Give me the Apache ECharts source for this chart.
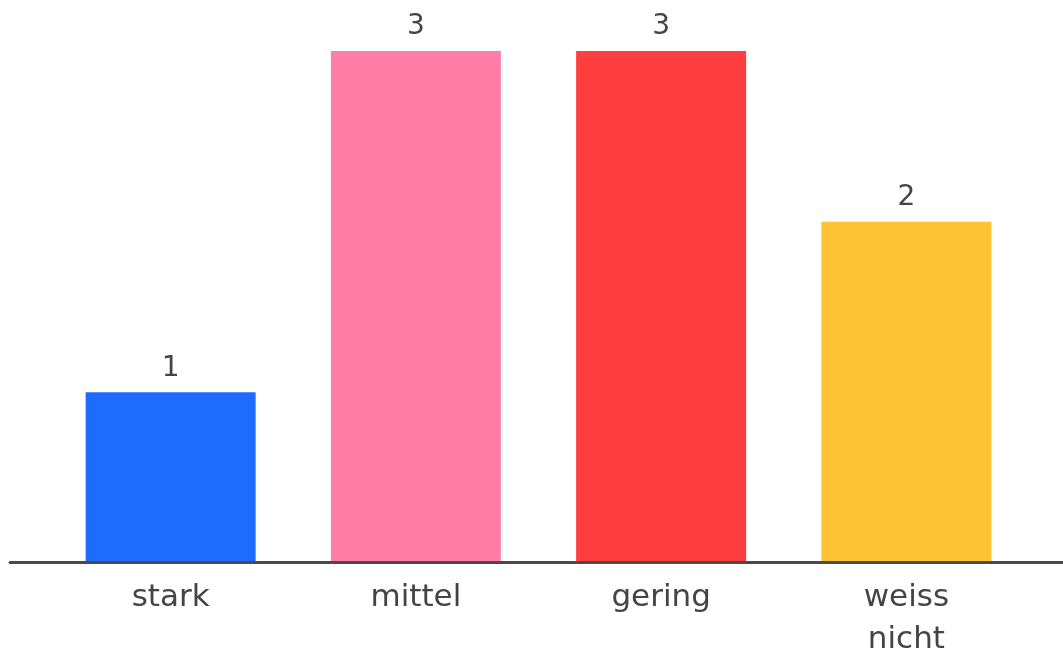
<!DOCTYPE html>
<html>
<head>
<meta charset="utf-8">
<script src="https://cdn.jsdelivr.net/npm/echarts@6/dist/echarts.min.js"></script>
<style>
  html, body { margin: 0; padding: 0; background: #ffffff; }
  #chart { width: 1063px; height: 654px; }
</style>
</head>
<body>
<div id="chart"></div>
<script>
// Answer categories and counts
const categories = ['stark', 'mittel', 'gering', 'weiss\nnicht'];
const counts = [1, 3, 3, 2];
const barColors = ['#1f6bff', '#ff7ea8', '#ff3f3f', '#fdc235'];

const chart = echarts.init(document.getElementById('chart'));

const labelFont = 'DejaVu Sans, sans-serif';

chart.setOption({
  animation: false,
  backgroundColor: '#ffffff',
  grid: [
    // plotting area for the bars
    { left: 48, right: 34, top: 51, bottom: 91, outerBoundsMode: 'none', containLabel: false },
    // full-width baseline
    { left: 10, right: 0, top: 51, bottom: 92, outerBoundsMode: 'none', containLabel: false }
  ],
  xAxis: [
    {
      type: 'category',
      gridIndex: 0,
      data: categories,
      axisLine: { show: false },
      axisTick: { show: false },
      axisLabel: {
        color: '#444444',
        fontFamily: labelFont,
        fontSize: 31,
        lineHeight: 42,
        margin: 14
      }
    },
    {
      type: 'value',
      gridIndex: 1,
      min: 0,
      max: 1,
      axisLine: { show: true, lineStyle: { color: '#4a4a4a', width: 3 } },
      axisTick: { show: false },
      axisLabel: { show: false },
      splitLine: { show: false },
      z: 10
    }
  ],
  yAxis: [
    {
      type: 'value',
      gridIndex: 0,
      min: 0,
      max: 3,
      show: false,
      splitLine: { show: false }
    },
    {
      type: 'value',
      gridIndex: 1,
      min: 0,
      max: 1,
      show: false,
      splitLine: { show: false }
    }
  ],
  series: [
    {
      type: 'bar',
      xAxisIndex: 0,
      yAxisIndex: 0,
      barWidth: 170,
      data: counts.map((v, i) => ({ value: v, itemStyle: { color: barColors[i] } })),
      label: {
        show: true,
        position: 'top',
        distance: 10,
        color: '#444444',
        fontFamily: labelFont,
        fontSize: 28
      }
    }
  ]
});
</script>
</body>
</html>
